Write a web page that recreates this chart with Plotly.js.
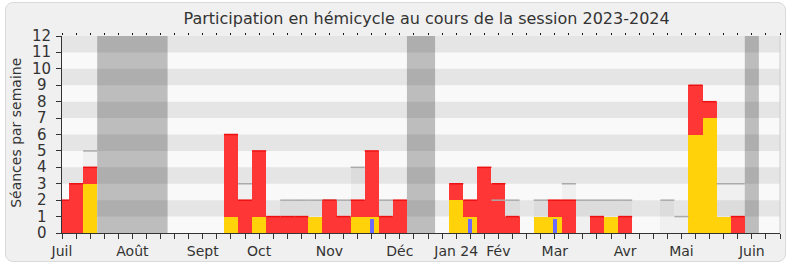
<!DOCTYPE html>
<html>
<head>
<meta charset="utf-8">
<script src="https://cdn.plot.ly/plotly-3.0.1.min.js"></script>
<style>
  body { margin:0; background:#ffffff; }
  #frame { position:absolute; left:5px; top:2px; width:779px; height:258px; border:1px solid #d9d9d9; border-radius:8px; background:#f0f0f0; }
  #chart { position:absolute; left:0; top:0; width:790px; height:267px; }
</style>
</head>
<body>
<div id="frame"></div>
<div id="chart"></div>
<script>
// ---- data ----
const titleText = "Participation en hémicycle au cours de la session 2023-2024";
const yTitle = "Séances par semaine";
const nWeeks = 52;
const monthLabels = ["Juil","Août","Sept","Oct","Nov","Déc","Jan 24","Fév","Mar","Avr","Mai","Juin"];
const monthWeeks  = [0,5,10,14,19,24,28,31,35,40,44,49];
const vacations = [[3,7],[25,26],[49,49]];
const yTicks = [0,1,2,3,4,5,6,7,8,9,10,11,12];

const presence = [2,3,4,0,0,0,0,0,0,0,0,0, 6,2,5,1,1,1,1,2,1,2,5,1,2, 0,0,0, 3,2,4,3,1,0,1,2,2,0,1,1,1, 0,0,0,0, 9,8,1,1,0,0,0];
const participation = [0,0,3,0,0,0,0,0,0,0,0,0, 1,0,1,0,0,0,1,0,0,1,1,0,0, 0,0,0, 2,1,0,0,0,0,1,1,0,0,0,1,0, 0,0,0,0, 6,7,1,0,0,0,0];
const questions = [0,0,0,0,0,0,0,0,0,0,0,0, 0,0,0,0,0,0,0,0,0,0,0.87,0,0, 0,0,0, 0,0.87,0,0,0,0,0,0.87,0,0,0,0,0, 0,0,0,0, 0,0,0,0,0,0,0];
const median = [null,null,5,null,null,null,null,null,null,null,null,null, null,3,null,null,2,2,2,2,2,4,null,2,null, null,null,null, null,null,null,2,2,null,2,null,3,2,2,2,2, null,null,2,1, null,null,3,3,null,null,null];

// ---- build ----
const weeks = Array.from({length:nWeeks}, (_,i)=>i);
const xMax = nWeeks - 1;
const yMax = yTicks[yTicks.length-1];
const tickText = weeks.map(w => { const j = monthWeeks.indexOf(w); return j>=0 ? monthLabels[j] : ""; });

function segs(vals, keep){
  const xs=[], ys=[];
  vals.forEach((v,i)=>{ if(v!==null && v>0 && keep(i)){ xs.push(i-0.5,i+0.5,null); ys.push(v,v,null);} });
  return {xs, ys};
}
const medSeg = segs(median, ()=>true);
const redSeg = segs(presence, i => presence[i] > participation[i]);

const FONT = "DejaVu Sans, Verdana, sans-serif";
const traces = [
  {type:'bar', x:weeks, y:median.map(v=>v===null?0:v), width:1, marker:{color:'rgba(0,0,0,0.035)', line:{width:0}}, hoverinfo:'skip'},
  {type:'scatter', mode:'lines', x:medSeg.xs, y:medSeg.ys, line:{color:'#aaaaaa', width:1.5}, hoverinfo:'skip', connectgaps:false},
  {type:'bar', x:weeks, y:presence, width:1, marker:{color:'#ff3636', line:{width:0}}, hoverinfo:'skip'},
  {type:'scatter', mode:'lines', x:redSeg.xs, y:redSeg.ys, line:{color:'#ee1111', width:1.5}, hoverinfo:'skip', connectgaps:false},
  {type:'bar', x:weeks, y:participation, width:1, marker:{color:'#ffd20a', line:{width:0}}, hoverinfo:'skip'},
  {type:'bar', x:weeks, y:questions, width:0.28, marker:{color:'#6a6aff', line:{width:0}}, hoverinfo:'skip'},
  {type:'scatter', mode:'markers', x:[0], y:[0], xaxis:'x2', marker:{opacity:0}, hoverinfo:'skip'}
];

const shapes = [];
vacations.forEach(([a,b])=>{
  shapes.push({type:'rect', layer:'below', xref:'x', yref:'y', x0:a-0.5, x1:b+0.5, y0:0, y1:yMax, fillcolor:'#bdbdbd', line:{width:0}});
});
for(let v=1; v<yMax; v+=2){
  shapes.push({type:'rect', layer:'below', xref:'x', yref:'y', x0:-1, x1:xMax+1, y0:v, y1:v+1, fillcolor:'rgba(0,0,0,0.08)', line:{width:0}});
}
shapes.push({type:'line', xref:'paper', yref:'paper', x0:1, x1:1, y0:0, y1:1, line:{color:'#cccccc', width:1}});

const annotations = yTicks.map(v=>({
  text:String(v), xref:'paper', yref:'y', x:-0.028, y:v, xanchor:'center', yanchor:'middle', showarrow:false,
  font:{family:FONT, size:15, color:'#333333'}
}));
annotations.push({text:yTitle, xref:'paper', yref:'paper', x:-0.065, y:0.51, textangle:-90, xanchor:'center', yanchor:'middle', showarrow:false,
  font:{family:FONT, size:14, color:'#333333'}});

const layout = {
  width:790, height:267,
  margin:{l:62, r:10, t:36, b:34},
  paper_bgcolor:'rgba(0,0,0,0)', plot_bgcolor:'#f9f9f9',
  showlegend:false, barmode:'overlay', bargap:0,
  title:{text:titleText, font:{family:FONT, size:16, color:'#333333'}, xref:'container', x:0.54, xanchor:'center', yref:'container', y:0.93, yanchor:'middle'},
  xaxis:{range:[0,xMax], tickmode:'array', tickvals:weeks, ticktext:tickText, ticks:'outside', ticklen:5, tickcolor:'#333333',
    showline:true, linecolor:'#333333', linewidth:1, showgrid:false, zeroline:false, fixedrange:true,
    tickfont:{family:FONT, size:14, color:'#333333'}},
  xaxis2:{overlaying:'x', side:'top', anchor:'y', range:[0,xMax], tickmode:'array', tickvals:weeks, ticks:'outside', ticklen:2, tickcolor:'#111111',
    showticklabels:false, showline:false, showgrid:false, zeroline:false},
  yaxis:{range:[0,yMax], tickmode:'array', tickvals:yTicks, ticks:'outside', ticklen:5, tickcolor:'#333333', showticklabels:false,
    showline:true, linecolor:'#333333', linewidth:1, showgrid:false, zeroline:false, fixedrange:true},
  shapes, annotations
};
Plotly.newPlot('chart', traces, layout, {displayModeBar:false, staticPlot:true});
</script>
</body>
</html>
